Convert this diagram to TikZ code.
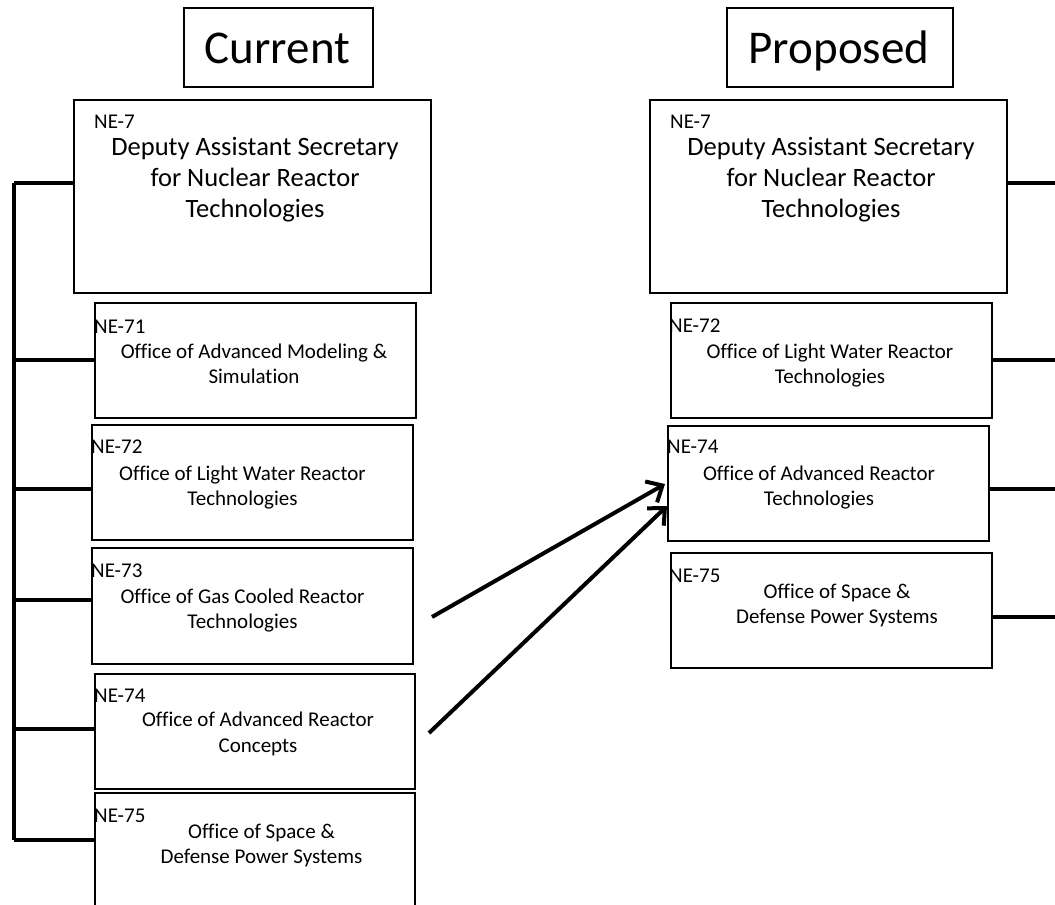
\documentclass[tikz,border=0pt]{standalone}
\usepackage{fontspec}
\setmainfont[Ligatures=CommonOff]{Carlito}
\usetikzlibrary{arrows.meta}

\tikzset{
  orgbox/.style={draw=black, line width=2pt, fill=white, inner sep=0pt, anchor=north west},
  titlebox/.style={draw=black, line width=2pt, inner sep=0pt, anchor=north west},
  titletext/.style={font=\fontsize{47}{56}\selectfont, inner sep=0pt, anchor=base},
  headtext/.style={font=\fontsize{26.5}{31}\selectfont, inner sep=0pt, anchor=base},
  subtext/.style={font=\fontsize{21}{25}\selectfont, inner sep=0pt, anchor=base},
  codetext/.style={font=\fontsize{21}{25}\selectfont, inner sep=0pt, anchor=base west},
  link/.style={draw=black, line width=3.5pt},
  move/.style={draw=black, line width=4pt, -{Straight Barb[length=13pt,width=24pt,line width=4pt]}}
}

\begin{document}
\begin{tikzpicture}[x=1pt, y=-1pt]
  \clip (0,0) rectangle (1055,905);
  \fill[white] (0,0) rectangle (1055,905);

  % ---- headings ----
  \node[titlebox, minimum width=189pt, minimum height=79pt] (curT) at (183,7) {};
  \node[titletext] (curTt) at (277.5,63) {Current};
  \node[titlebox, minimum width=226pt, minimum height=79pt] (proT) at (726,7) {};
  \node[titletext] (proTt) at (839,63) {Proposed};

  % ---- current organisation ----
  \node[orgbox, minimum width=357pt, minimum height=193pt] (c7) at (73,99) {};
  \node[codetext] (c7c) at (94,128) {NE-7};
  \node[headtext] (c7a) at (255,155) {Deputy Assistant Secretary};
  \node[headtext] (c7b) at (255,186) {for Nuclear Reactor};
  \node[headtext] (c7d) at (255,217) {Technologies};

  \node[orgbox, minimum width=321pt, minimum height=115pt] (c71) at (94,302) {};
  \node[codetext] (c71c) at (94,333) {NE-71};
  \node[subtext] (c71a) at (254,358) {Office of Advanced Modeling \&};
  \node[subtext] (c71b) at (254,383) {Simulation};

  \node[orgbox, minimum width=321pt, minimum height=115pt] (c72) at (91,424) {};
  \node[codetext] (c72c) at (91,453) {NE-72};
  \node[subtext] (c72a) at (242.5,480) {Office of Light Water Reactor};
  \node[subtext] (c72b) at (242.5,505) {Technologies};

  \node[orgbox, minimum width=321pt, minimum height=116pt] (c73) at (91,547) {};
  \node[codetext] (c73c) at (91,577) {NE-73};
  \node[subtext] (c73a) at (242.5,603) {Office of Gas Cooled Reactor};
  \node[subtext] (c73b) at (242.5,628) {Technologies};

  \node[orgbox, minimum width=320pt, minimum height=115pt] (c74) at (94,673) {};
  \node[codetext] (c74c) at (94,702) {NE-74};
  \node[subtext] (c74a) at (258,726) {Office of Advanced Reactor};
  \node[subtext] (c74b) at (258,752) {Concepts};

  \node[orgbox, minimum width=320pt, minimum height=130pt] (c75) at (94,792) {};
  \node[codetext] (c75c) at (94,822) {NE-75};
  \node[subtext] (c75a) at (261.5,838) {Office of Space \&};
  \node[subtext] (c75b) at (261.5,863) {Defense Power Systems};

  % left-hand reporting bus
  \coordinate (busTop) at (14,183);
  \coordinate (busBot) at (14,840);
  \draw[link] (busTop) -- (busBot);
  \draw[link] (c7.west |- busTop) -- (busTop);
  \draw[link] (c71.west |- 0,360) -- (busTop |- 0,360);
  \draw[link] (c72.west |- 0,489) -- (busTop |- 0,489);
  \draw[link] (c73.west |- 0,600) -- (busTop |- 0,600);
  \draw[link] (c74.west |- 0,729) -- (busTop |- 0,729);
  \draw[link] (c75.west |- busBot) -- (busBot);

  % ---- proposed organisation ----
  \node[orgbox, minimum width=357pt, minimum height=193pt] (p7) at (649,99) {};
  \node[codetext] (p7c) at (670,128) {NE-7};
  \node[headtext] (p7a) at (831,155) {Deputy Assistant Secretary};
  \node[headtext] (p7b) at (831,186) {for Nuclear Reactor};
  \node[headtext] (p7d) at (831,217) {Technologies};

  \node[orgbox, minimum width=321pt, minimum height=115pt] (p72) at (670,302) {};
  \node[codetext] (p72c) at (669,332) {NE-72};
  \node[subtext] (p72a) at (830,358) {Office of Light Water Reactor};
  \node[subtext] (p72b) at (830,383) {Technologies};

  \node[orgbox, minimum width=321pt, minimum height=115pt] (p74) at (667,425) {};
  \node[codetext] (p74c) at (667,453) {NE-74};
  \node[subtext] (p74a) at (819,480) {Office of Advanced Reactor};
  \node[subtext] (p74b) at (819,505) {Technologies};

  \node[orgbox, minimum width=321pt, minimum height=115pt] (p75) at (670,552) {};
  \node[codetext] (p75c) at (669,582) {NE-75};
  \node[subtext] (p75a) at (837,598) {Office of Space \&};
  \node[subtext] (p75b) at (837,623) {Defense Power Systems};

  % right-hand reporting lines (bus lies beyond the edge)
  \coordinate (rbus) at (1060,183);
  \draw[link] (p7.east |- rbus) -- (rbus);
  \draw[link] (p72.east |- 0,360) -- (rbus |- 0,360);
  \draw[link] (p74.east |- 0,489) -- (rbus |- 0,489);
  \draw[link] (p75.east |- 0,617) -- (rbus |- 0,617);

  % ---- merger arrows ----
  \coordinate (m73) at ([shift={(18,11)}]c73.east);
  \coordinate (m74) at ([shift={(13,1.5)}]c74.east);
  \draw[move] (m73) -- ([shift={(-2,0.5)}]p74.west);
  \draw[move] (m74) -- ([shift={(0,22.5)}]p74.west);
\end{tikzpicture}
\end{document}
